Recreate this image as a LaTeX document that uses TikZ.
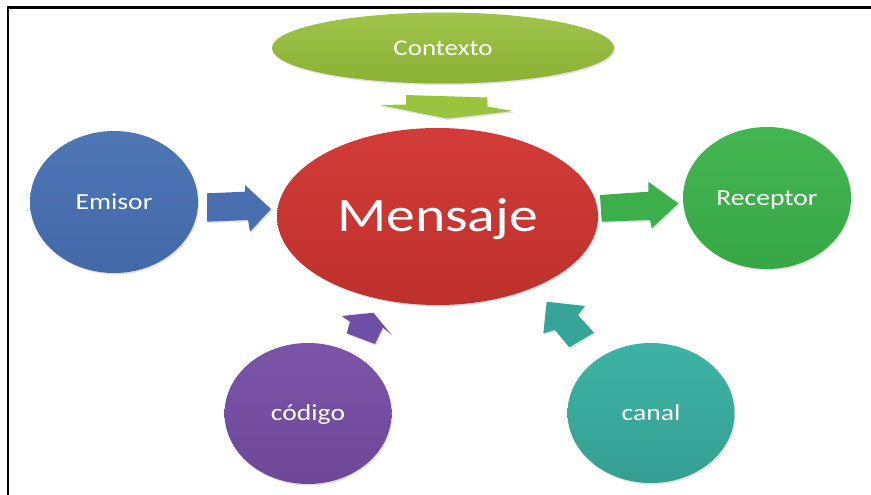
\documentclass[tikz,border=0pt]{standalone}
\usepackage{fontspec}
\setmainfont{Carlito}[FakeStretch=1.2]
\usetikzlibrary{shapes.geometric,shadows}
\definecolor{ctxTop}{HTML}{9FC44A}
\definecolor{ctxBot}{HTML}{8AB034}
\definecolor{emiTop}{HTML}{4E76B5}
\definecolor{emiBot}{HTML}{4368A8}
\definecolor{menTop}{HTML}{D23C38}
\definecolor{menBot}{HTML}{BD302C}
\definecolor{recTop}{HTML}{42B652}
\definecolor{recBot}{HTML}{37A746}
\definecolor{codTop}{HTML}{7A55A8}
\definecolor{codBot}{HTML}{6D4899}
\definecolor{canTop}{HTML}{3EB3A3}
\definecolor{canBot}{HTML}{349F91}
\definecolor{arrCtx}{HTML}{9BC43E}
\definecolor{arrEmi}{HTML}{4A6FB0}
\definecolor{arrRec}{HTML}{3DAF4A}
\definecolor{arrCod}{HTML}{6F4FA6}
\definecolor{arrCan}{HTML}{36A597}
\begin{document}
\begin{tikzpicture}[x=1pt,y=-1pt,
  bub/.style={ellipse, inner sep=0pt, text=white,
    font=\fontsize{23}{23}\selectfont, text height=14.8pt, text depth=0pt,
    drop shadow={opacity=0.25, shadow xshift=1pt, shadow yshift=-1.5pt}},
  blk/.style={drop shadow={opacity=0.25, shadow xshift=1pt, shadow yshift=-1.5pt}},
  frame/.style={line width=2.5pt, black}]
\useasboundingbox (0,0) rectangle (871,495);
\draw[frame] (871,7.5) -- (8,7.5) -- (8,495);

% bubbles
\node[bub, minimum width=342pt, minimum height=71pt, top color=ctxTop, bottom color=ctxBot,
  font=\fontsize{22.5}{22.5}\selectfont, text height=14.5pt] (ctx) at (443,48) {Contexto};
\node[bub, minimum width=168pt, minimum height=142pt, top color=emiTop, bottom color=emiBot] (emi) at (114,202) {Emisor};
\node[bub, minimum width=321pt, minimum height=177pt, top color=menTop, bottom color=menBot,
  font=\fontsize{48}{48}\selectfont, text height=30.9pt] (men) at (437.5,216.5) {Mensaje};
\node[bub, minimum width=168pt, minimum height=142pt, top color=recTop, bottom color=recBot] (rec) at (767,198) {Receptor};
\node[bub, minimum width=167pt, minimum height=141pt, top color=codTop, bottom color=codBot] (cod) at (308,413.5) {código};
\node[bub, minimum width=167pt, minimum height=140pt, top color=canTop, bottom color=canBot] (can) at (651,413) {canal};

% block arrows
\fill[blk, arrCtx] (406,95) -- (487,97.5) -- (487,106.5) -- (513,111) -- (447,118.5)
  -- (380,105) -- (406,104.5) -- cycle;
\fill[blk, arrEmi] (207,193.3) -- (245,191.7) -- (245,185) -- (271,209) -- (250,231.7)
  -- (248,220) -- (207,221.7) -- cycle;
\fill[blk, arrRec] (600,195) -- (648.3,191.7) -- (648.3,181.7) -- (678.3,203.5) -- (651.7,228.3)
  -- (650,220) -- (601.7,221.7) -- cycle;
\fill[blk, arrCod] (373.3,312.7) -- (391.7,335) -- (383,327.5) -- (375,344) -- (346.7,333.3)
  -- (350,321.7) -- (341.7,316) -- cycle;
\fill[blk, arrCan] (546.7,301.7) -- (585,306) -- (578,315) -- (594,332.7) -- (569.3,347.3)
  -- (555,330) -- (543.3,333.3) -- cycle;
\end{tikzpicture}
\end{document}
